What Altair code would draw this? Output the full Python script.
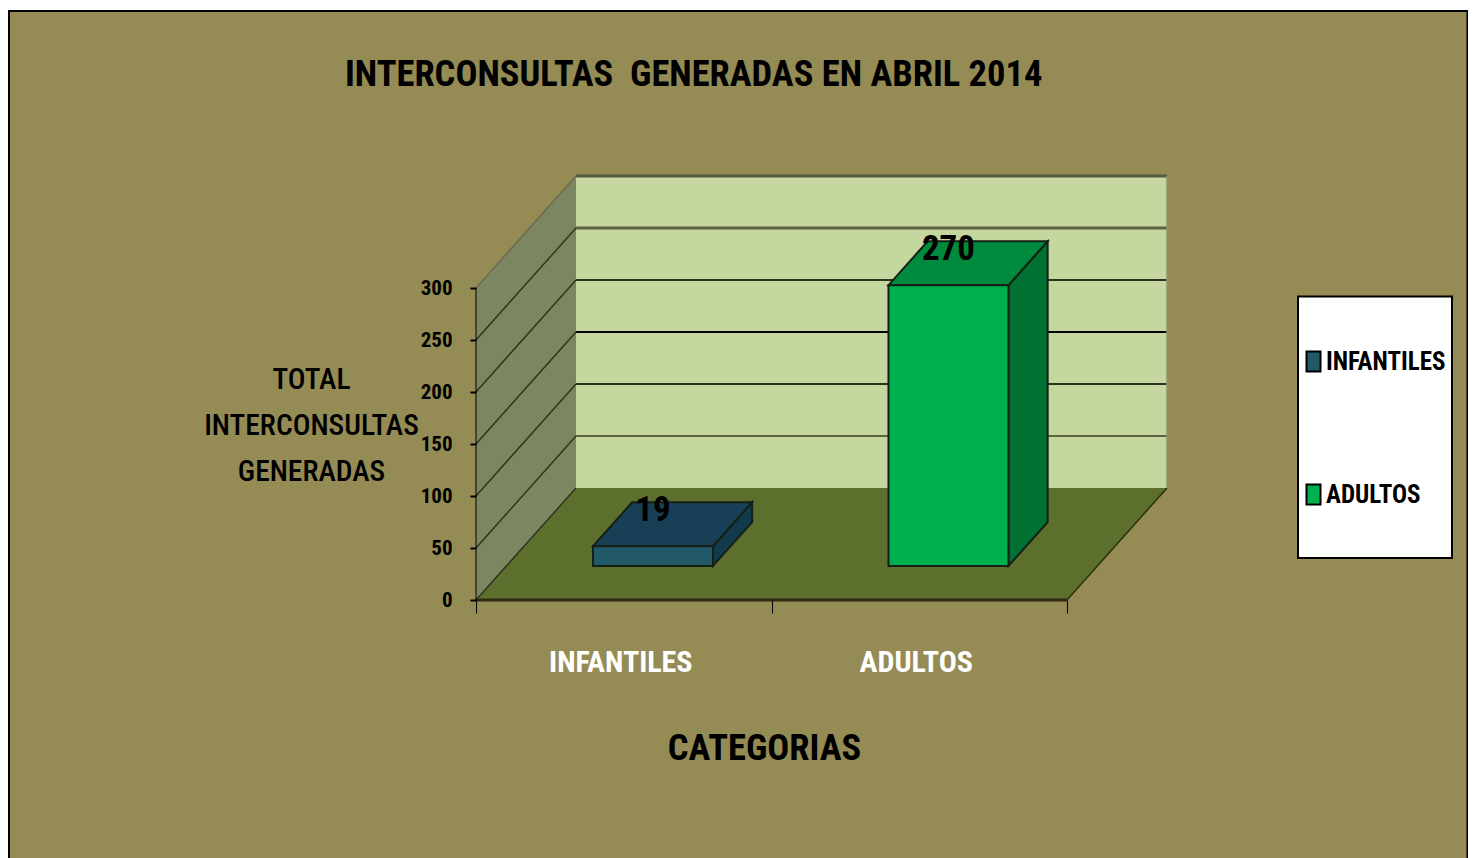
import altair as alt
import pandas as pd

categories = ["INFANTILES", "ADULTOS"]
values = [19, 270]
y_ticks = [0, 50, 100, 150, 200, 250, 300]
title_text = "INTERCONSULTAS\u00a0 GENERADAS EN ABRIL 2014"
y_title = ["TOTAL", "INTERCONSULTAS", "GENERADAS"]
x_title = "CATEGORIAS"

W, H = 1460, 850
ORIGIN_X, ORIGIN_Y = 468, 592      # local pixel of (category 0, value 0)
PX_U, PX_V = 295.5, 1.04           # pixels per category band / per value unit
DEPTH_U, DEPTH_V = 100 / PX_U, 112 / PX_V
BAR_OFF, BAR_W, D0, D1 = 0.293, 0.406, 0.304, 0.696
FONT = "Roboto Condensed, Lato"

x_scale = alt.Scale(domain=[-ORIGIN_X / PX_U, (W - ORIGIN_X) / PX_U], range=[0, W], nice=False, zero=False)
y_scale = alt.Scale(domain=[-(H - ORIGIN_Y) / PX_V, ORIGIN_Y / PX_V], range=[H, 0], nice=False, zero=False)

x_axis = alt.Axis(
    values=[0, 1, 2], labels=False, domain=False, grid=False, ticks=True, tickSize=13,
    tickColor="#000000", tickWidth=1, offset=-(H - ORIGIN_Y), zindex=1,
    title=x_title, titleFont=FONT, titleFontSize=36.5, titleFontWeight="bold", titleColor="#000000",
    titleX=764 - 8, titleY=748 - 600, titleBaseline="middle", titleAlign="center")
y_axis = alt.Axis(
    values=y_ticks, domain=False, grid=False, tickSize=6, tickColor="#000000", tickWidth=2,
    labelFont=FONT, labelFontSize=21, labelFontWeight="bold", labelColor="#000000", labelPadding=18,
    labelBaseline="middle", offset=-ORIGIN_X, zindex=1, title=y_title, titleFont=FONT, titleFontSize=29.5,
    titleFontWeight=500, titleColor="#000000", titleLineHeight=46, titleAngle=0,
    titleAlign="center", titleBaseline="top", titleX=311 - 476, titleY=365 - 8)


def U(u, d=0.0):
    return u + DEPTH_U * d


def V(v, d=0.0):
    return v + DEPTH_V * d


X = lambda f: alt.X(f, type="quantitative", scale=x_scale, axis=x_axis)
Y = lambda f: alt.Y(f, type="quantitative", scale=y_scale, axis=y_axis)


def vquad(u0, v00, v01, u1, v10, v11, fill, stroke=None, sw=1):
    df = pd.DataFrame({"u": [u0, u1], "a": [v00, v10], "b": [v01, v11]})
    kw = dict(stroke=stroke, strokeWidth=sw) if stroke else {}
    return alt.Chart(df).mark_area(color=fill, opacity=1, **kw).encode(x=X("u"), y=Y("a"), y2="b")


def hquad(v0, a0, b0, v1, a1, b1, fill, stroke=None, sw=1):
    df = pd.DataFrame({"v": [v0, v1], "a": [a0, a1], "b": [b0, b1]})
    kw = dict(stroke=stroke, strokeWidth=sw) if stroke else {}
    return alt.Chart(df).mark_area(orient="horizontal", color=fill, opacity=1, **kw).encode(y=Y("v"), x=X("a"), x2="b")


def seg(u0, v0, u1, v1, color, sw=1, dash=None):
    df = pd.DataFrame({"u": [u0, u1], "v": [v0, v1]})
    kw = dict(strokeDash=dash) if dash else {}
    return alt.Chart(df).mark_line(color=color, strokeWidth=sw, **kw).encode(x=X("u"), y=Y("v"), order="u:Q")


layers = []

one = pd.DataFrame({"k": [0]})
layers.append(alt.Chart(one).mark_rect(fill="#958B54", stroke="#000000", strokeWidth=2).encode(
    x=alt.value(1), x2=alt.value(1459.5), y=alt.value(3), y2=alt.value(880)))
layers.append(alt.Chart(one).mark_rect(fill="#FFFFFF", stroke="#000000", strokeWidth=2).encode(
    x=alt.value(1290), x2=alt.value(1444), y=alt.value(288.5), y2=alt.value(550)))

vtop = y_ticks[-1]
layers.append(vquad(U(0, 1), V(0, 1), V(vtop, 1), U(2, 1), V(0, 1), V(vtop, 1), "#C5D69E"))
layers.append(vquad(U(0, 0), V(0, 0), V(vtop, 0), U(0, 1), V(0, 1), V(vtop, 1), "#7C8661"))
layers.append(hquad(V(0, 0), U(0, 0), U(2, 0), V(0, 1), U(0, 1), U(2, 1), "#5D6F2D"))
grid_colors = {0: "#3B4420", 50: "#5C6440", 100: "#2C3320", 150: "#000000", 200: "#2C3320", 250: "#5C6440", 300: "#555A40"}
for t in y_ticks:
    w = 3 if t in (250, 300) else 2
    if t > 0:
        layers.append(seg(U(0, 1), V(t, 1), U(2, 1), V(t, 1), grid_colors[t], w))
    layers.append(seg(U(0, 0), V(t, 0), U(0, 1), V(t, 1), "#2C3320" if t < vtop else "#6A6A50", 1.4))
layers.append(seg(U(0, 0), V(0, 0), U(2, 0), V(0, 0), "#2E2A12", 3))
layers.append(seg(U(2, 0), V(0, 0), U(2, 1), V(0, 1), "#2A3010", 1.5))
layers.append(seg(U(2, 1), V(0, 1), U(2, 1), V(vtop, 1), "#8E9470", 1.5))
layers.append(seg(0, 0, 0, vtop, "#000000", 1))

colors_front = ["#215968", "#00B050"]
colors_top = ["#173F55", "#008A3E"]
colors_side = ["#133A4C", "#007033"]

for i, (c, val) in enumerate(zip(categories, values)):
    L = i + BAR_OFF
    R = L + BAR_W
    layers.append(vquad(U(R, D0), V(0, D0), V(val, D0), U(R, D1), V(0, D1), V(val, D1), colors_side[i], "#142014", 2))
    layers.append(hquad(V(val, D0), U(L, D0), U(R, D0), V(val, D1), U(L, D1), U(R, D1), colors_top[i], "#142014", 2))

front = pd.DataFrame({
    "cat": categories,
    "x0": [U(i + BAR_OFF, D0) for i in range(2)],
    "x1": [U(i + BAR_OFF + BAR_W, D0) for i in range(2)],
    "y0": [V(0, D0)] * 2,
    "y1": [V(v, D0) for v in values],
    "val": values,
})
layers.append(alt.Chart(front).mark_rect(stroke="#142014", strokeWidth=2).encode(
    x=X("x0"), x2="x1", y=Y("y0"), y2="y1",
    color=alt.Color("cat:N", sort=categories, scale=alt.Scale(domain=categories, range=colors_front),
                    legend=alt.Legend(
                        orient="none", legendX=1301 - 8, legendY=349 - 8, title=None, padding=0,
                        rowPadding=104, symbolType="M-0.7,-1H0.7V1H-0.7Z", symbolSize=400,
                        symbolStrokeColor="#000000", symbolStrokeWidth=2, labelOffset=0,
                        labelFont=FONT, labelFontSize=25, labelFontWeight="bold", labelColor="#000000",
                        labelLimit=300))))

labels = front.assign(cx=(front.x0 + front.x1) / 2)
layers.append(alt.Chart(labels).mark_text(font=FONT, fontSize=35, fontWeight="bold", color="#000000",
                                          baseline="middle", align="center", dy=-36).encode(
    x=X("cx"), y=Y("y1"), text="val:Q"))

cat_df = pd.DataFrame({"cat": categories, "u": [i + 0.49 for i in range(2)], "v": [-(663 - 600) / PX_V] * 2})
layers.append(alt.Chart(cat_df).mark_text(font=FONT, fontSize=30, fontWeight="bold", color="#FFFFFF",
                                          baseline="middle", align="center").encode(
    x=X("u"), y=Y("v"), text="cat:N"))

chart = alt.layer(*layers).properties(
    width=W, height=H, padding=0, background="#FFFFFF",
    autosize=alt.AutoSizeParams(type="none"),
    title=alt.TitleParams(title_text, font=FONT, fontSize=36.5, fontWeight="bold", color="#000000",
                          anchor="start", frame="group", dx=337, dy=103, baseline="middle", offset=0),
).configure_view(stroke=None)

chart.save("out.html", embed_options={"renderer": "svg", "actions": False})
